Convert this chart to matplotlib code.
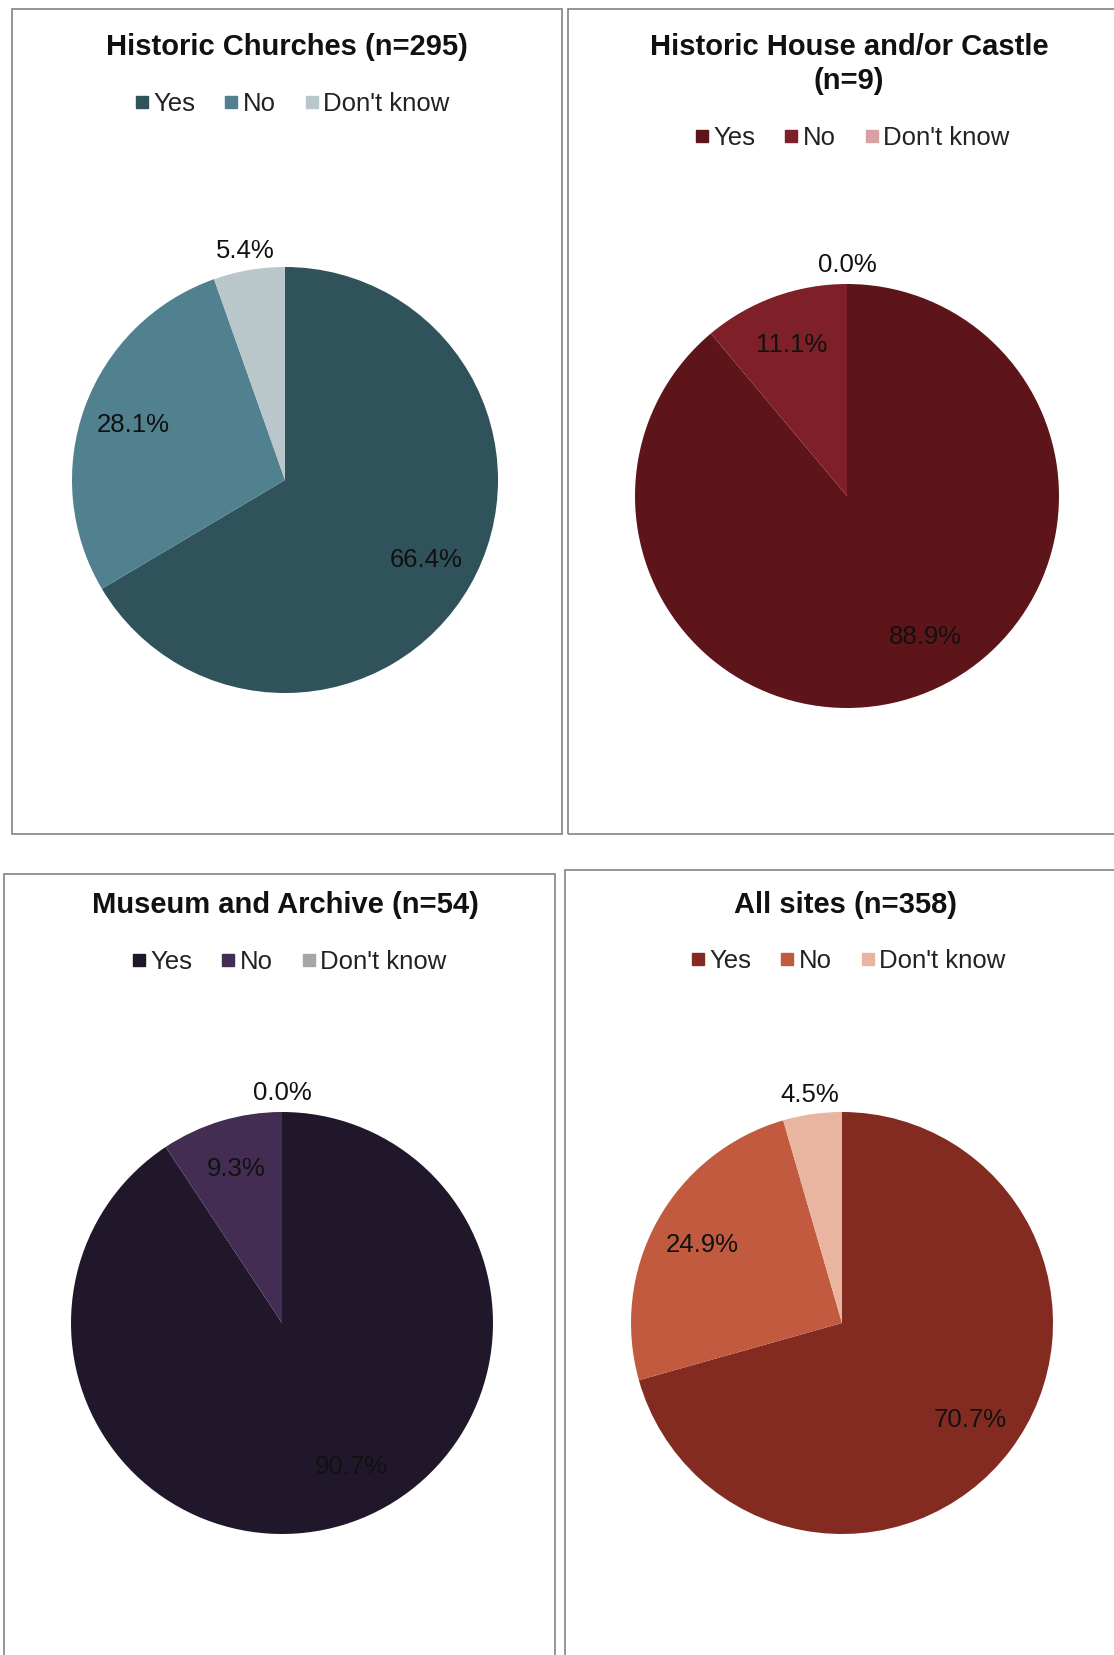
import numpy as np
import matplotlib
matplotlib.use("Agg")
import matplotlib.pyplot as plt
from matplotlib.lines import Line2D
from matplotlib.patches import Rectangle

# ---------------- data ----------------
categories = ["Yes", "No", "Don't know"]
titles = ["Historic Churches (n=295)",
          "Historic House and/or Castle\n(n=9)",
          "Museum and Archive (n=54)",
          "All sites (n=358)"]
churches = [66.4, 28.1, 5.4]
house_castle = [88.9, 11.1, 0.0]
museum_archive = [90.7, 9.3, 0.0]
all_sites = [70.7, 24.9, 4.5]
series = [churches, house_castle, museum_archive, all_sites]

colors_churches = ["#2F525B", "#51808F", "#B9C7CA"]
colors_house = ["#5E151A", "#7F1F27", "#D9A0A3"]
colors_museum = ["#21172A", "#432D52", "#A6A6A6"]
colors_all = ["#832B20", "#C25A40", "#E9B4A0"]
palettes = [colors_churches, colors_house, colors_museum, colors_all]

# ---------------- layout (pixels) ----------------
W, H = 1114, 1655
plt.rcParams['font.family'] = ['Liberation Sans', 'DejaVu Sans']
fig = plt.figure(figsize=(W / 100, H / 100), dpi=100)
fig.patch.set_facecolor("white")

boxes = [(12, 9, 562, 834), (568, 9, 1125, 834), (4, 874, 555, 1700), (565, 870, 1125, 1700)]
title_pos = [(287, 47), (849, 64), (285, 905), (845, 905)]
legend_pos = [(292, 104), (852, 138), (289, 962), (848, 961)]
pie_geom = [(285, 480, 213), (847, 496, 212), (282, 1323, 211), (842, 1323, 211)]


def fx(x):
    return x / W


def fy(y):
    return 1 - y / H


for i in range(4):
    x0, y0, x1, y1 = boxes[i]
    fig.patches.append(Rectangle((fx(x0), fy(y1)), fx(x1) - fx(x0), fy(y0) - fy(y1),
                                 transform=fig.transFigure, fill=False,
                                 edgecolor="#8c8c8c", linewidth=1.3))
    tx, ty = title_pos[i]
    fig.text(fx(tx), fy(ty), titles[i], ha="center", va="center",
             fontsize=21, fontweight="bold", color="#111111", linespacing=1.3)

    cx, cy, r = pie_geom[i]
    ax = fig.add_axes([fx(cx - r), fy(cy + r), 2 * r / W, 2 * r / H])
    vals = series[i]
    wedges, _ = ax.pie(vals, colors=palettes[i], startangle=90, counterclock=False,
                       radius=1.0, wedgeprops=dict(linewidth=0))
    ax.set_xlim(-1, 1)
    ax.set_ylim(-1, 1)
    ax.set_aspect("equal")
    ax.axis("off")
    for w, v in zip(wedges, vals):
        mid = np.deg2rad((w.theta1 + w.theta2) / 2)
        if v > 85:
            mid += np.deg2rad(9)
        d = 1.09 if v < 6 else 0.76
        ax.text(d * np.cos(mid), d * np.sin(mid), f"{v:.1f}%", ha="center", va="center",
                fontsize=18.5, color="#111111", clip_on=False)

    handles = [Line2D([0], [0], marker="s", linestyle="none", markersize=9,
                      markerfacecolor=c, markeredgecolor=c) for c in palettes[i]]
    lx, ly = legend_pos[i]
    ax.legend(handles, categories, loc="center", bbox_to_anchor=(fx(lx), fy(ly)),
              bbox_transform=fig.transFigure, ncol=3, frameon=False, fontsize=18.5,
              handlelength=0.6, handletextpad=0.15, columnspacing=1.1, borderpad=0,
              labelcolor="#222222")

fig.savefig("out.png", dpi=100, facecolor="white")
